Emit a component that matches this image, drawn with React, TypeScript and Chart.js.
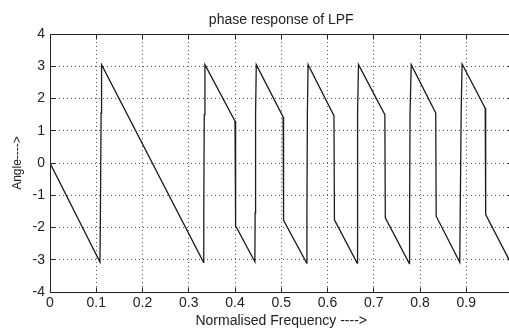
import React, { useEffect, useRef } from "react";
import { Chart, registerables } from "chart.js";

Chart.register(...registerables);

const titleText = "phase response of LPF";
const xLabel = "Normalised Frequency ---->";
const yLabel = "Angle---->";

const xTicks = [0, 0.1, 0.2, 0.3, 0.4, 0.5, 0.6, 0.7, 0.8, 0.9, 1];
const xTickLabels = ["0", "0.1", "0.2", "0.3", "0.4", "0.5", "0.6", "0.7", "0.8", "0.9", "1"];
const yTicks = [-4, -3, -2, -1, 0, 1, 2, 3, 4];
const yTickLabels = ["-4", "-3", "-2", "-1", "0", "1", "2", "3", "4"];

// normalised frequency (x) and phase angle in radians (y)
const freq = [
  0, 0.108, 0.109, 0.1105, 0.1115,
  0.332, 0.3325, 0.3335, 0.335,
  0.4, 0.4005, 0.4015, 0.402,
  0.443, 0.4435, 0.4445, 0.446,
  0.504, 0.505,
  0.555, 0.5555, 0.5565, 0.558,
  0.614, 0.615,
  0.664, 0.6645, 0.6655, 0.667,
  0.724, 0.725,
  0.777, 0.7775, 0.7785, 0.781,
  0.834, 0.835,
  0.886, 0.887, 0.889, 0.891,
  0.941, 0.942,
  0.997,
];
const phase = [
  0, -3.07, -1.55, 1.55, 3.05,
  -3.08, -1.55, 1.5, 3.05,
  1.3, 0.45, -1.0, -1.95,
  -3.06, -1.55, 1.5, 3.05,
  1.43, -1.78,
  -3.1, -1.55, 1.55, 3.05,
  1.47, -1.76,
  -3.1, -1.55, 1.55, 3.05,
  1.5, -1.7,
  -3.12, -1.55, 1.55, 3.05,
  1.55, -1.65,
  -3.08, -1.55, 1.55, 3.07,
  1.7, -1.6,
  -3.12,
];

const FONT = "'Liberation Sans', Arial, Helvetica, sans-serif";
const TEXT = "#222";

const framePlugin = {
  id: "matlabFrame",
  afterDatasetsDraw(chart: any) {
    const { ctx, chartArea } = chart;
    const { left, right, top, bottom } = chartArea;
    const xs = chart.scales.x;
    const ys = chart.scales.y;
    const a = (p: number) => Math.round(p - 0.5) + 0.5;
    ctx.save();
    ctx.strokeStyle = "#222";
    ctx.lineWidth = 1;
    ctx.setLineDash([]);
    ctx.beginPath();
    ctx.moveTo(a(left), a(top));
    ctx.lineTo(a(right), a(top));
    ctx.lineTo(a(right), a(bottom));
    ctx.moveTo(a(left), a(top));
    ctx.lineTo(a(left), a(bottom));
    ctx.lineTo(a(right), a(bottom));
    const tl = 5;
    xTicks.forEach((v) => {
      const px = a(xs.getPixelForValue(v));
      ctx.moveTo(px, a(bottom));
      ctx.lineTo(px, a(bottom) - tl);
      ctx.moveTo(px, a(top));
      ctx.lineTo(px, a(top) + tl);
    });
    yTicks.forEach((v) => {
      const py = a(ys.getPixelForValue(v));
      ctx.moveTo(a(left), py);
      ctx.lineTo(a(left) + tl, py);
      ctx.moveTo(a(right), py);
      ctx.lineTo(a(right) - tl, py);
    });
    ctx.stroke();
    ctx.restore();
  },
};

export default function App() {
  const canvasRef = useRef<HTMLCanvasElement | null>(null);

  useEffect(() => {
    const canvas = canvasRef.current;
    if (!canvas) return;
    const points = freq.map((f, i) => ({ x: f, y: phase[i] }));
    const chart = new Chart(canvas, {
      type: "line",
      data: {
        datasets: [
          {
            data: points,
            borderColor: "#1c1c1c",
            borderWidth: 1.3,
            pointRadius: 0,
            pointHoverRadius: 0,
            tension: 0,
            fill: false,
          },
        ],
      },
      options: {
        responsive: false,
        animation: false,
        devicePixelRatio: 1,
        layout: { padding: { left: 0, top: 0, bottom: 0, right: 7.5 } },
        plugins: {
          legend: { display: false },
          tooltip: { enabled: false },
          title: {
            display: true,
            text: titleText,
            fullSize: false,
            color: TEXT,
            font: { family: FONT, size: 14, weight: "normal" },
            padding: { top: 11.7, bottom: 5.5 },
          },
        },
        scales: {
          x: {
            type: "linear",
            min: 0,
            max: 1,
            afterBuildTicks: (s: any) => {
              s.ticks = xTicks.map((v) => ({ value: v }));
            },
            afterFit: (s: any) => {
              s.height = 41;
            },
            ticks: {
              autoSkip: false,
              maxRotation: 0,
              padding: 3,
              color: TEXT,
              font: { family: FONT, size: 14 },
              callback: (_v: any, i: number) => xTickLabels[i],
            },
            grid: { color: "#555", lineWidth: 1, drawTicks: false },
            border: { display: true, color: "#222", width: 1, dash: [1, 3] },
            title: {
              display: true,
              text: xLabel,
              color: TEXT,
              font: { family: FONT, size: 14 },
              padding: { top: 0, bottom: 3 },
            },
          },
          y: {
            type: "linear",
            min: -4,
            max: 4,
            afterBuildTicks: (s: any) => {
              s.ticks = yTicks.map((v) => ({ value: v }));
            },
            afterFit: (s: any) => {
              s.width = 50;
            },
            ticks: {
              autoSkip: false,
              padding: 5,
              color: TEXT,
              font: { family: FONT, size: 14 },
              callback: (_v: any, i: number) => yTickLabels[i],
            },
            grid: { color: "#555", lineWidth: 1, drawTicks: false },
            border: { display: true, color: "#222", width: 1, dash: [1, 3] },
            title: {
              display: true,
              text: yLabel,
              color: TEXT,
              font: { family: FONT, size: 12 },
              padding: { top: 10.5, bottom: 0 },
            },
          },
        },
      },
      plugins: [framePlugin],
    } as any);
    return () => chart.destroy();
  }, []);

  return (
    <div
      style={{
        position: "fixed",
        left: 0,
        top: 0,
        width: 509,
        height: 333,
        overflow: "hidden",
        background: "#fff",
      }}
    >
      <canvas ref={canvasRef} width={520} height={333} style={{ display: "block", width: 520, height: 333 }} />
    </div>
  );
}
